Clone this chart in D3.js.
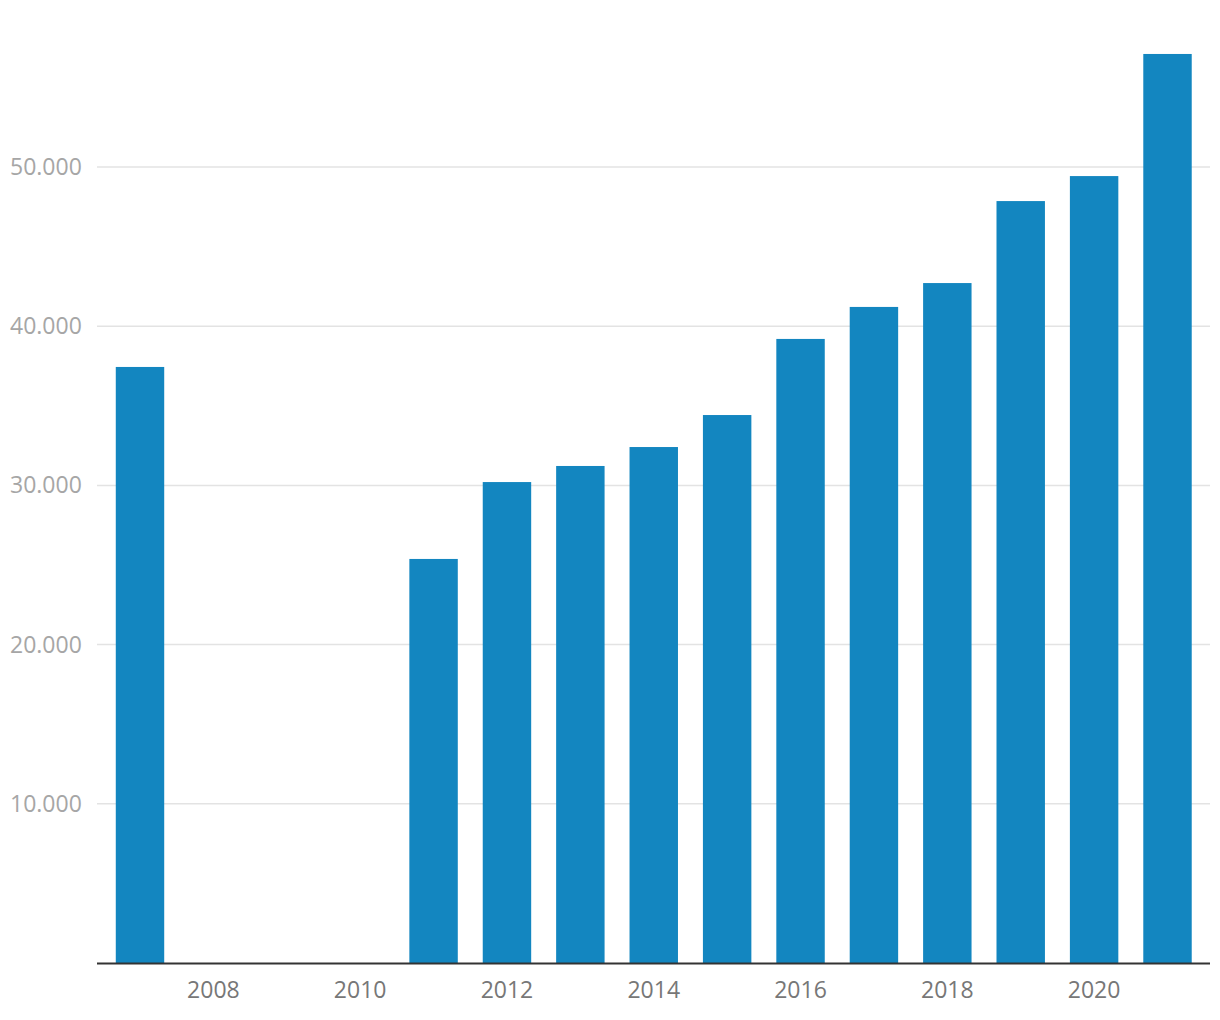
<!DOCTYPE html>
<html><head><meta charset="utf-8">
<script src="https://cdn.jsdelivr.net/npm/d3@7"></script>
<style>body{margin:0;background:#fff;}svg{display:block;font-family:"Open Sans",sans-serif;}</style>
</head><body>
<svg id="c" width="1220" height="1020"></svg>
<script>
const years = [2007,2008,2009,2010,2011,2012,2013,2014,2015,2016,2017,2018,2019,2020,2021];
const values = [37440,null,null,null,25380,30210,31220,32410,34420,39200,41210,42710,47860,49430,57100];
const yTicks = [10000,20000,30000,40000,50000];
const xTickLabels = [2008,2010,2012,2014,2016,2018,2020];

const svg = d3.select("#c");
const x = d3.scaleBand().domain(years).range([103.3,1204.2]).paddingInner(0.34).paddingOuter(0.17);
const y = d3.scaleLinear().domain([0,50000]).range([963,167]);
const fmt = v => d3.format(",")(v).replace(/,/g,".");

svg.append("g").selectAll("line").data(yTicks).join("line")
  .attr("x1",97).attr("x2",1210).attr("y1",d=>y(d)).attr("y2",d=>y(d))
  .attr("stroke","#e3e3e3").attr("stroke-width",1.5);
svg.append("g").selectAll("text").data(yTicks).join("text")
  .attr("x",10).attr("y",d=>y(d)).attr("dy","0.35em")
  .attr("fill","#a6a6a6").attr("font-size",23).text(fmt);

svg.append("g").selectAll("rect").data(years.map((yr,i)=>({yr,v:values[i]})).filter(d=>d.v!=null)).join("rect")
  .attr("x",d=>x(d.yr)).attr("width",x.bandwidth())
  .attr("y",d=>y(d.v)).attr("height",d=>y(0)-y(d.v)).attr("fill","#1386c0");

svg.append("line").attr("x1",97).attr("x2",1210).attr("y1",y(0)+0.5).attr("y2",y(0)+0.5)
  .attr("stroke","#333").attr("stroke-width",2);

svg.append("g").selectAll("text").data(xTickLabels).join("text")
  .attr("x",d=>x(d)+x.bandwidth()/2).attr("y",990).attr("dy","0.35em")
  .attr("text-anchor","middle").attr("fill","#777").attr("font-size",23).text(d=>d);
</script>
</body></html>
